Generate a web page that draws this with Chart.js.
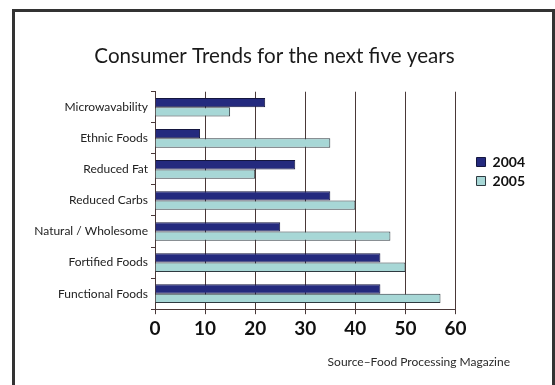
<!DOCTYPE html>
<html>
<head>
<meta charset="utf-8">
<script src="https://cdn.jsdelivr.net/npm/chart.js@4.4.0/dist/chart.umd.min.js"></script>
<style>
  html, body { margin: 0; padding: 0; background: #fff; }
  #wrap { position: relative; width: 555px; height: 385px; overflow: hidden; }
  #frame { position: absolute; left: 12px; top: 9px; right: 0px; height: 420px;
           border: 3px solid #333; border-bottom: none; pointer-events: none; }
  canvas { position: absolute; left: 0; top: 0; }
</style>
</head>
<body>
<div id="wrap">
  <canvas id="chart" width="555" height="385"></canvas>
  <div id="frame"></div>
</div>
<script>
// Data
const categories = ['Microwavability', 'Ethnic Foods', 'Reduced Fat', 'Reduced Carbs',
                    'Natural / Wholesome', 'Fortified Foods', 'Functional Foods'];
const values2004 = [22, 9, 28, 35, 25, 45, 45];
const values2005 = [15, 35, 20, 40, 47, 50, 57];
const xTicks = [0, 10, 20, 30, 40, 50, 60];

const gridColor = '#4a3838';
const sourceText = 'Source\u2013Food Processing Magazine';

const PAD_LEFT = 30;
const PAD_RIGHT = 36;

// source note under the axis + nudge legend next to the plot
const sourceNote = {
    id: 'sourceNote',
    afterLayout(chart) {
        // legend sits a bit away from the last gridline, like the original
        const lg = chart.legend;
        const shift = 16;
        lg.left += shift;
        lg.right += shift;
    },
    afterDraw(chart) {
        const ctx = chart.ctx;
        ctx.save();
        ctx.font = "12px Lato";
        ctx.fillStyle = '#2a2a2a';
        ctx.textAlign = 'right';
        ctx.textBaseline = 'middle';
        ctx.fillText(sourceText, chart.width - 45, 362);
        ctx.restore();
    }
};

new Chart(document.getElementById('chart'), {
    type: 'bar',
    data: {
        labels: categories,
        datasets: [
            { label: '2004', data: values2004, backgroundColor: '#242a7e', borderColor: '#14163f',
              borderWidth: 1, barPercentage: 1.0, categoryPercentage: 0.6 },
            { label: '2005', data: values2005, backgroundColor: '#a7d7d6', borderColor: '#2e3a40',
              borderWidth: 1, barPercentage: 1.0, categoryPercentage: 0.6 }
        ]
    },
    options: {
        indexAxis: 'y',
        responsive: false,
        animation: false,
        layout: { padding: { left: PAD_LEFT, right: PAD_RIGHT, top: 0, bottom: 42 } },
        scales: {
            x: {
                min: 0, max: 60,
                afterBuildTicks: axis => { axis.ticks = xTicks.map(v => ({ value: v })); },
                ticks: { font: { family: 'Lato', size: 19, weight: 'bold' }, color: '#111', padding: 3 },
                grid: { color: gridColor, lineWidth: 1, tickLength: 5 },
                border: { color: gridColor, width: 1 }
            },
            y: {
                afterFit: scale => { scale.width = 155 - PAD_LEFT; },
                ticks: { font: { family: 'Lato', size: 12 }, color: '#222', padding: 3 },
                grid: { drawOnChartArea: false, color: gridColor, tickLength: 4 },
                border: { color: gridColor, width: 1 }
            }
        },
        plugins: {
            title: {
                display: true,
                text: 'Consumer Trends for the next five years',
                font: { family: 'Lato', size: 20.6, weight: 'normal' },
                color: '#1a1a1a',
                padding: { top: 44, bottom: 23 }
            },
            legend: {
                position: 'right',
                labels: {
                    boxWidth: 9, boxHeight: 9, padding: 5,
                    font: { family: 'Lato', size: 14, weight: 'bold' },
                    color: '#111'
                }
            },
            tooltip: { enabled: false }
        }
    },
    plugins: [sourceNote]
});
</script>
</body>
</html>
